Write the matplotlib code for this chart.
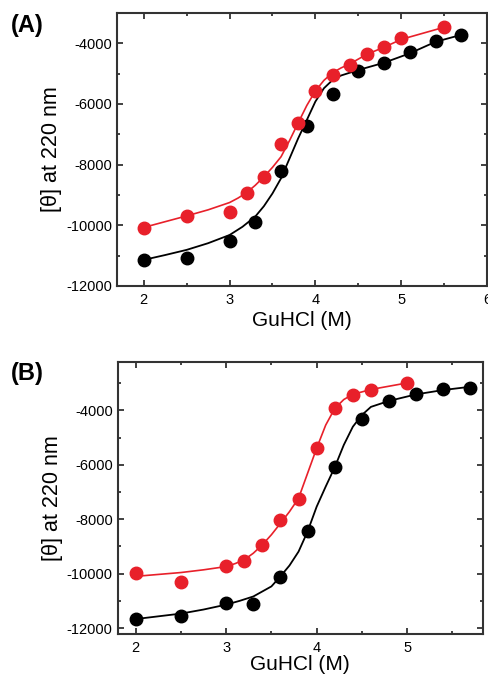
import numpy as np
import matplotlib.pyplot as plt
from matplotlib.ticker import MultipleLocator

plt.rcParams['font.family'] = ['Liberation Sans', 'DejaVu Sans']
plt.rcParams['axes.unicode_minus'] = False

RED = '#e8202a'

# ---------- panel A: data ----------
a_red_x = [2.0, 2.5, 3.0, 3.2, 3.4, 3.6, 3.8, 4.0, 4.2, 4.4, 4.6, 4.8, 5.0, 5.5]
a_red_y = [-10080, -9690, -9560, -8920, -8400, -7320, -6630, -5570, -5040, -4720,
           -4350, -4120, -3820, -3450]
a_blk_x = [2.0, 2.5, 3.0, 3.3, 3.6, 3.9, 4.2, 4.5, 4.8, 5.1, 5.4, 5.7]
a_blk_y = [-11150, -11070, -10530, -9900, -8210, -6720, -5660, -4900, -4650,
           -4300, -3910, -3710]

# fitted curves
a_red_fit_x = [2.0, 2.25, 2.5, 2.75, 3.0, 3.1, 3.2, 3.3, 3.4, 3.5, 3.6, 3.7, 3.8,
               3.9, 4.0, 4.1, 4.2, 4.3, 4.4, 4.6, 4.8, 5.0, 5.5]
a_red_fit_y = [-10070, -9880, -9690, -9490, -9250, -9100, -8920, -8680, -8400,
               -8090, -7740, -7200, -6620, -6050, -5570, -5220, -4970, -4810,
               -4680, -4360, -4130, -3870, -3470]
a_blk_fit_x = [2.0, 2.25, 2.5, 2.75, 3.0, 3.15, 3.3, 3.4, 3.5, 3.6, 3.7, 3.8,
               3.9, 4.0, 4.1, 4.2, 4.3, 4.5, 4.8, 5.1, 5.4, 5.7]
a_blk_fit_y = [-11140, -10980, -10810, -10590, -10320, -10050, -9710, -9370,
               -8950, -8450, -7790, -7130, -6530, -5920, -5480, -5210, -5060,
               -4880, -4640, -4330, -3950, -3720]

# ---------- panel B: data ----------
b_red_x = [2.0, 2.5, 3.0, 3.2, 3.4, 3.6, 3.8, 4.0, 4.2, 4.4, 4.6, 5.0]
b_red_y = [-9990, -10310, -9710, -9520, -8950, -8020, -7240, -5380, -3900, -3440,
           -3240, -2990]
b_blk_x = [2.0, 2.5, 3.0, 3.3, 3.6, 3.9, 4.2, 4.5, 4.8, 5.1, 5.4, 5.7]
b_blk_y = [-11670, -11570, -11080, -11120, -10140, -8430, -6090, -4320, -3650,
           -3380, -3210, -3160]

b_red_fit_x = [2.0, 2.25, 2.5, 2.75, 3.0, 3.1, 3.2, 3.3, 3.4, 3.5, 3.6, 3.7, 3.8,
               3.9, 4.0, 4.1, 4.2, 4.3, 4.4, 4.6, 5.0]
b_red_fit_y = [-10100, -10030, -9960, -9860, -9740, -9630, -9490, -9250, -8940,
               -8570, -8150, -7720, -7230, -6310, -5390, -4540, -3930, -3600,
               -3410, -3230, -2990]
b_blk_fit_x = [2.0, 2.25, 2.5, 2.75, 3.0, 3.15, 3.3, 3.5, 3.6, 3.7, 3.8, 3.9,
               4.0, 4.1, 4.2, 4.3, 4.4, 4.5, 4.6, 4.8, 5.1, 5.4, 5.7]
b_blk_fit_y = [-11670, -11570, -11470, -11320, -11140, -11000, -10840, -10470,
               -10100, -9700, -9190, -8450, -7540, -6800, -6090, -5270, -4600,
               -4170, -3870, -3650, -3410, -3250, -3130]

fig = plt.figure(figsize=(4.88, 6.77), dpi=100)
ax_a = fig.add_axes([0.240, 0.5776, 0.758, 0.4032])
ax_b = fig.add_axes([0.241, 0.0635, 0.749, 0.4022])


def style(ax, xlim, ylim, xpad):
    ax.set_xlim(*xlim)
    ax.set_ylim(*ylim)
    ax.xaxis.set_major_locator(MultipleLocator(1))
    ax.xaxis.set_minor_locator(MultipleLocator(0.5))
    ax.yaxis.set_major_locator(MultipleLocator(2000))
    ax.yaxis.set_minor_locator(MultipleLocator(1000))
    ax.tick_params(which='both', direction='in', top=True, right=True,
                   width=1.3, color='#333333', labelsize=10.5)
    ax.tick_params(which='major', length=4.5)
    ax.tick_params(which='minor', length=2.5)
    ax.tick_params(axis='x', pad=5)
    for s in ax.spines.values():
        s.set_linewidth(1.5)
        s.set_color('#333333')
    ax.set_xlabel('GuHCl (M)', fontsize=15, labelpad=xpad)
    ax.set_ylabel('[θ] at 220 nm', fontsize=15.5, labelpad=3)


# panel A
ax_a.plot(a_blk_fit_x, a_blk_fit_y, color='black', lw=1.3, zorder=2)
ax_a.plot(a_red_fit_x, a_red_fit_y, color=RED, lw=1.2, zorder=2)
ax_a.plot(a_blk_x, a_blk_y, 'o', color='black', ms=9, zorder=3)
ax_a.plot(a_red_x, a_red_y, 'o', color=RED, ms=9, zorder=4)
style(ax_a, (1.69, 6.0), (-12000, -3000), 3)

# panel B
ax_b.plot(b_blk_fit_x, b_blk_fit_y, color='black', lw=1.3, zorder=2)
ax_b.plot(b_red_fit_x, b_red_fit_y, color=RED, lw=1.2, zorder=2)
ax_b.plot(b_blk_x, b_blk_y, 'o', color='black', ms=9, zorder=3)
ax_b.plot(b_red_x, b_red_y, 'o', color=RED, ms=9, zorder=4)
style(ax_b, (1.8, 5.84), (-12220, -2210), 0)

fig.text(0.022, 0.963, '(A)', fontsize=17, fontweight='bold', va='center')
fig.text(0.022, 0.449, '(B)', fontsize=17, fontweight='bold', va='center')

fig.savefig('out.png', dpi=100)
